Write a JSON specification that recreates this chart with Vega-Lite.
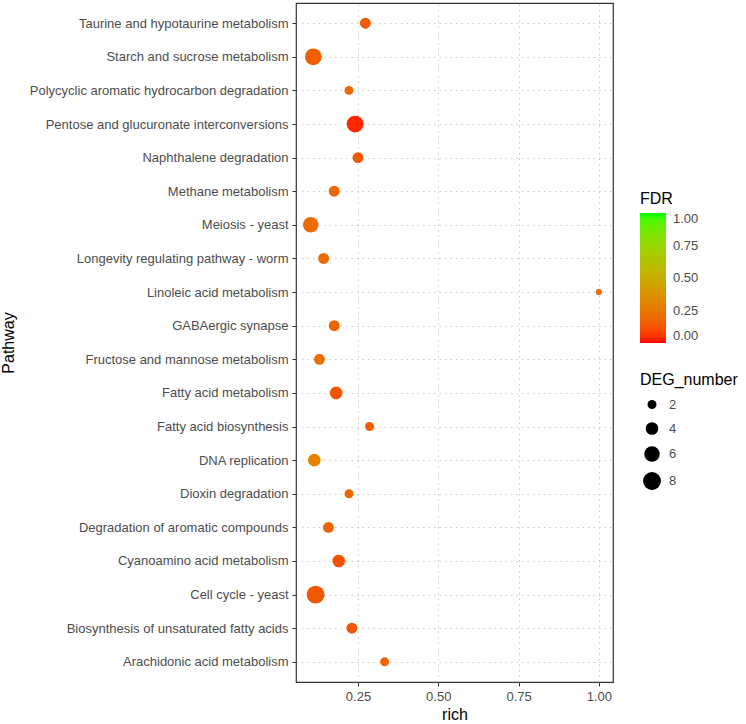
{
  "$schema": "https://vega.github.io/schema/vega-lite/v6.json",
  "autosize": "none",
  "width": 317,
  "height": 679,
  "padding": {"left": 296, "top": 3, "right": 133, "bottom": 42},
  "background": "white",
  "config": {
    "font": "Liberation Sans",
    "view": {"stroke": "#333333", "strokeWidth": 1.2}
  },
  "data": {
    "values": [
      {"Pathway": "Taurine and hypotaurine metabolism", "rich": 0.273, "DEG_number": 3, "FDR": 0.15},
      {"Pathway": "Starch and sucrose metabolism", "rich": 0.111, "DEG_number": 7, "FDR": 0.16},
      {"Pathway": "Polycyclic aromatic hydrocarbon degradation", "rich": 0.222, "DEG_number": 2, "FDR": 0.2},
      {"Pathway": "Pentose and glucuronate interconversions", "rich": 0.241, "DEG_number": 7, "FDR": 0.03},
      {"Pathway": "Naphthalene degradation", "rich": 0.25, "DEG_number": 3, "FDR": 0.14},
      {"Pathway": "Methane metabolism", "rich": 0.176, "DEG_number": 3, "FDR": 0.19},
      {"Pathway": "Meiosis - yeast", "rich": 0.103, "DEG_number": 6, "FDR": 0.2},
      {"Pathway": "Longevity regulating pathway - worm", "rich": 0.143, "DEG_number": 3, "FDR": 0.2},
      {"Pathway": "Linoleic acid metabolism", "rich": 1.0, "DEG_number": 1, "FDR": 0.2},
      {"Pathway": "GABAergic synapse", "rich": 0.176, "DEG_number": 3, "FDR": 0.17},
      {"Pathway": "Fructose and mannose metabolism", "rich": 0.13, "DEG_number": 3, "FDR": 0.22},
      {"Pathway": "Fatty acid metabolism", "rich": 0.182, "DEG_number": 4, "FDR": 0.13},
      {"Pathway": "Fatty acid biosynthesis", "rich": 0.286, "DEG_number": 2, "FDR": 0.15},
      {"Pathway": "DNA replication", "rich": 0.114, "DEG_number": 4, "FDR": 0.3},
      {"Pathway": "Dioxin degradation", "rich": 0.222, "DEG_number": 2, "FDR": 0.18},
      {"Pathway": "Degradation of aromatic compounds", "rich": 0.158, "DEG_number": 3, "FDR": 0.18},
      {"Pathway": "Cyanoamino acid metabolism", "rich": 0.19, "DEG_number": 4, "FDR": 0.12},
      {"Pathway": "Cell cycle - yeast", "rich": 0.118, "DEG_number": 8, "FDR": 0.14},
      {"Pathway": "Biosynthesis of unsaturated fatty acids", "rich": 0.231, "DEG_number": 3, "FDR": 0.13},
      {"Pathway": "Arachidonic acid metabolism", "rich": 0.333, "DEG_number": 2, "FDR": 0.18}
    ]
  },
  "mark": {"type": "circle", "opacity": 1},
  "encoding": {
    "x": {
      "field": "rich",
      "type": "quantitative",
      "scale": {"domain": [0.057, 1.044], "nice": false, "zero": false},
      "axis": {
        "title": "rich",
        "values": [0.25, 0.5, 0.75, 1.0],
        "format": ".2f",
        "labelFontSize": 13,
        "labelColor": "#4d4d4d",
        "labelPadding": 4,
        "titleFontSize": 16,
        "titleFontWeight": "normal",
        "titleColor": "black",
        "titlePadding": 3,
        "domain": false,
        "tickColor": "#333333",
        "tickSize": 4,
        "grid": true,
        "gridColor": "#c8c8c8",
        "gridDash": [1.5, 4],
        "gridWidth": 1
      }
    },
    "y": {
      "field": "Pathway",
      "type": "nominal",
      "sort": null,
      "scale": {"type": "point", "padding": 0.6},
      "axis": {
        "title": "Pathway",
        "labelFontSize": 13,
        "labelColor": "#4d4d4d",
        "labelLimit": 400,
        "labelPadding": 4,
        "titleFontSize": 16,
        "titleFontWeight": "normal",
        "titleColor": "black",
        "titleX": -280,
        "domain": false,
        "tickColor": "#333333",
        "tickSize": 4,
        "grid": true,
        "gridColor": "#c8c8c8",
        "gridDash": [1.5, 4],
        "gridWidth": 1
      }
    },
    "color": {
      "field": "FDR",
      "type": "quantitative",
      "scale": {"domain": [0, 1], "range": ["#ff0000", "#00ff00"], "interpolate": "lab"},
      "legend": {
        "title": "FDR",
        "titleFontSize": 16,
        "titleFontWeight": "normal",
        "titleColor": "black",
        "titlePadding": 6,
        "labelFontSize": 13,
        "labelColor": "#4d4d4d",
        "labelOffset": 7,
        "values": [0, 0.25, 0.5, 0.75, 1],
        "format": ".2f",
        "gradientLength": 130,
        "gradientThickness": 26,
        "gradientStrokeWidth": 0,
        "orient": "none",
        "legendX": 344,
        "legendY": 188,
        "direction": "vertical"
      }
    },
    "size": {
      "field": "DEG_number",
      "type": "quantitative",
      "scale": {"domain": [0, 8], "range": [0, 320], "zero": true},
      "legend": {
        "title": "DEG_number",
        "titleFontSize": 16,
        "titleFontWeight": "normal",
        "titleColor": "black",
        "titlePadding": 10,
        "labelFontSize": 13,
        "labelColor": "#4d4d4d",
        "labelOffset": 8,
        "values": [2, 4, 6, 8],
        "symbolFillColor": "black",
        "symbolStrokeWidth": 0,
        "symbolType": "circle",
        "symbolOffset": 3,
        "rowPadding": 10,
        "orient": "none",
        "legendX": 344,
        "legendY": 369
      }
    }
  }
}
